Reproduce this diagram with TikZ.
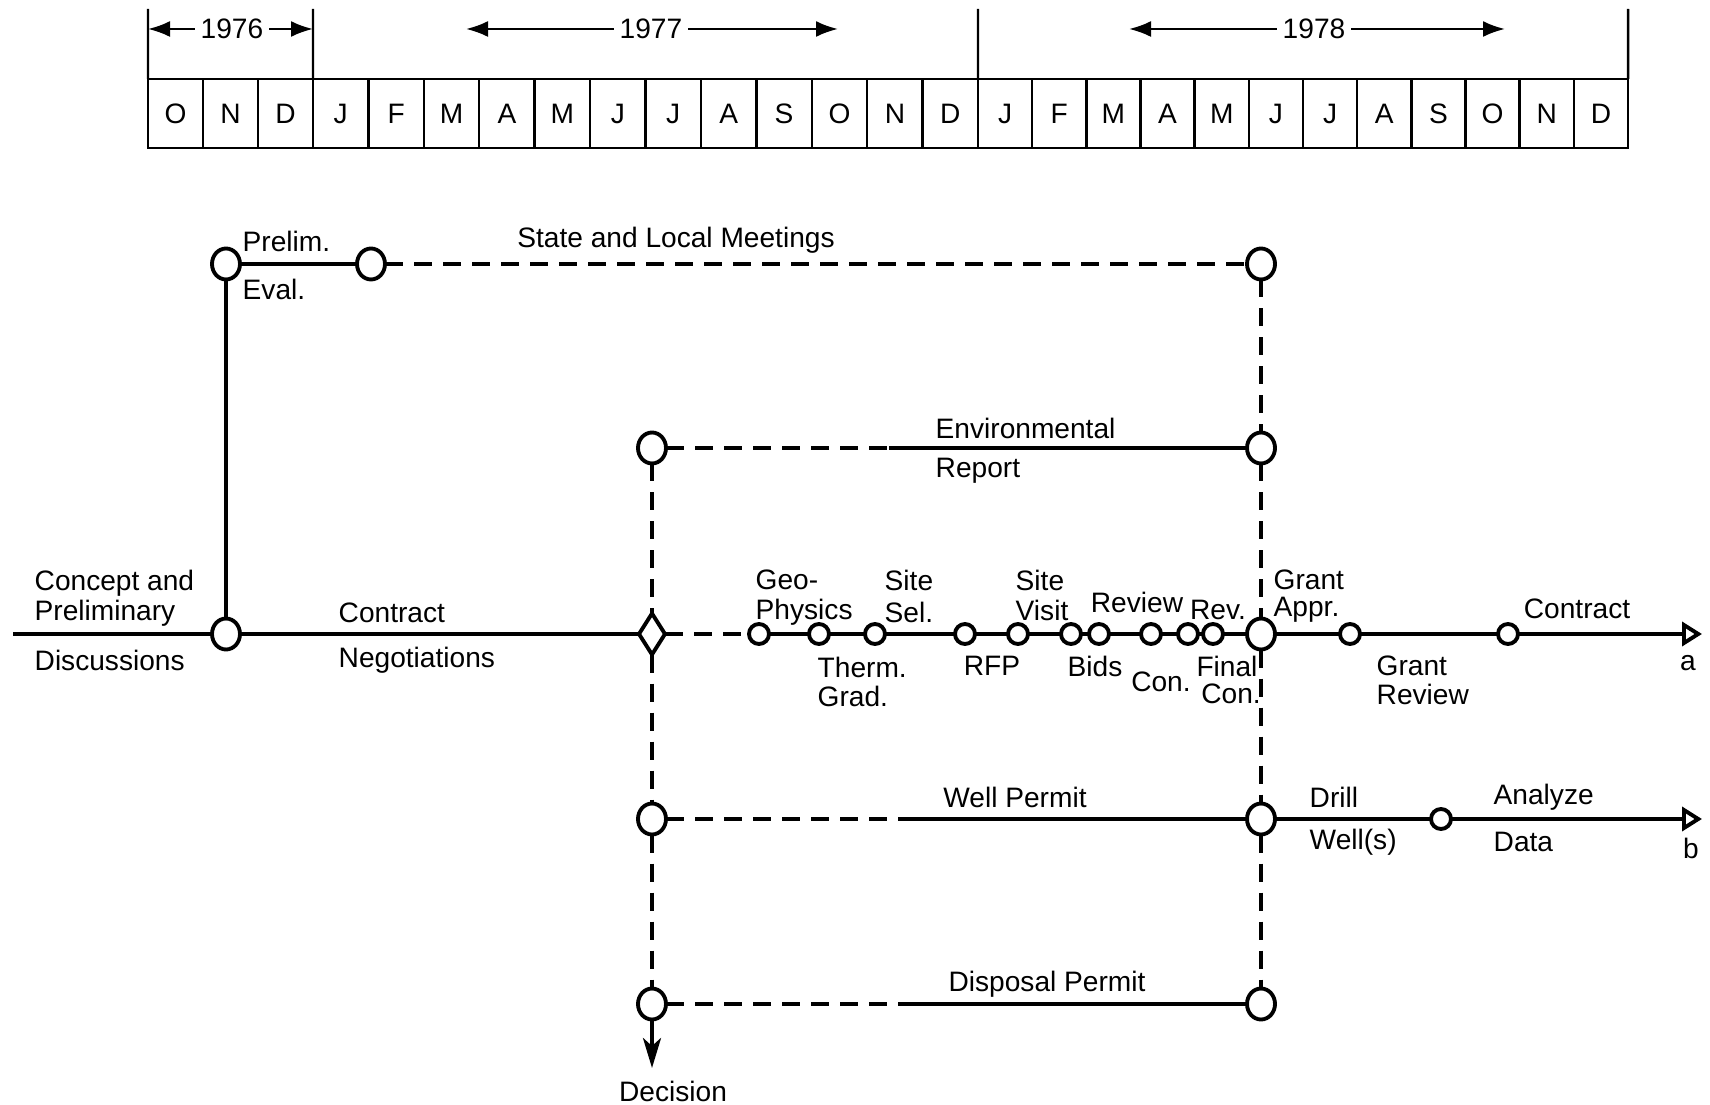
\documentclass[tikz,border=0pt]{standalone}
\usepackage{fontspec}
\setmainfont{Liberation Sans}
\usetikzlibrary{arrows.meta,shapes.geometric}

\begin{document}
\begin{tikzpicture}[
  x=0.1mm,
  y=-0.1mm,
  font=\fontsize{8}{10}\selectfont,
  mon/.style={
    draw,
    line width=0.7pt,
    minimum height=6.9mm,
    inner sep=0pt,
    outer sep=0pt
  },
  yr/.style={inner sep=1.5pt},
  lbl/.style={inner sep=0pt},
  calline/.style={line width=0.7pt},
  yarr/.style={
    line width=0.7pt,
    -{Latex[length=2.2mm,width=1.6mm]}
  },
  bign/.style={
    draw,
    ellipse,
    line width=1.1pt,
    minimum width=2.8mm,
    minimum height=3.1mm,
    inner sep=0pt,
    outer sep=0pt
  },
  smn/.style={
    draw,
    circle,
    line width=1.1pt,
    minimum size=2mm,
    inner sep=0pt,
    outer sep=0pt
  },
  dmd/.style={
    draw,
    diamond,
    line width=1.1pt,
    minimum width=2.6mm,
    minimum height=4.1mm,
    inner sep=0pt,
    outer sep=0pt
  },
  sline/.style={line width=1.1pt},
  dline/.style={
    line width=1.1pt,
    dash pattern=on 1.8mm off 1.1mm
  },
  endarr/.style={
    sline,
    -{Triangle[open,length=2mm,width=2.4mm]}
  },
  decarr/.style={
    sline,
    -{Stealth[length=3mm,width=1.8mm,inset=0.8mm]}
  }
]

\useasboundingbox (0,0) rectangle (1710,1105);

% calendar
\foreach \m [count=\i] in {O,N,D}
  \node[mon, minimum width=5.5mm] (ma\i) at ({148+55*(\i-0.5)},113.5) {\m};
\foreach \m [count=\i] in {J,F,M,A,M,J,J,A,S,O,N,D}
  \node[mon, minimum width=5.542mm] (mb\i) at ({313+55.42*(\i-0.5)},113.5) {\m};
\foreach \m [count=\i] in {J,F,M,A,M,J,J,A,S,O,N,D}
  \node[mon, minimum width=5.417mm] (mc\i) at ({978+54.17*(\i-0.5)},113.5) {\m};

\coordinate (ya) at (148,9);
\coordinate (yb) at (313,9);
\coordinate (yc) at (978,9);
\coordinate (yd) at (1628,9);

\draw[calline] (ya) -- (ma1.north west);
\draw[calline] (yb) -- (mb1.north west);
\draw[calline] (yc) -- (mc1.north west);
\draw[calline] (yd) -- (mc12.north east);

\node[yr] (t76) at (232,29) {1976};
\draw[yarr] (t76.west) -- (t76.west -| ya);
\draw[yarr] (t76.east) -- (t76.east -| yb);

\node[yr] (t77) at (651,29) {1977};
\coordinate (t77l) at (466,29);
\coordinate (t77r) at (838,29);
\draw[yarr] (t77.west) -- (t77l);
\draw[yarr] (t77.east) -- (t77r);

\node[yr] (t78) at (1314,29) {1978};
\coordinate (t78l) at (1129,29);
\coordinate (t78r) at (1505,29);
\draw[yarr] (t78.west) -- (t78l);
\draw[yarr] (t78.east) -- (t78r);

% network
\coordinate (start) at (13,634);
\node[bign] (disc) at (226,634) {};
\node[bign] (prelim) at (226,264) {};
\node[bign] (eval) at (371,264) {};
\node[bign] (meet) at (1261,264) {};
\node[bign] (envl) at (652,448) {};
\node[bign] (envr) at (1261,448) {};
\node[dmd] (go) at (652,634) {};
\node[bign] (hub) at (1261,634) {};
\node[smn] (grev) at (1350,634) {};
\node[smn] (contr) at (1508,634) {};
\coordinate (aend) at (1702,634);
\node[bign] (welll) at (652,819) {};
\node[bign] (wellr) at (1261,819) {};
\node[smn] (drill) at (1441,819) {};
\coordinate (bend) at (1702,819);
\node[bign] (displ) at (652,1004) {};
\node[bign] (dispr) at (1261,1004) {};
\coordinate (dec) at (652,1068);

\foreach \x [count=\i] in {759,819,875,965,1018,1071,1099,1151,1188,1213}
  \node[smn] (s\i) at (\x,634) {};

\coordinate (envmid) at (889,448);
\coordinate (wellmid) at (905,819);
\coordinate (dispmid) at (908,1004);

\draw[sline] (start) -- (disc);
\draw[sline] (disc) -- (go);
\draw[sline] (disc) -- (prelim);
\draw[sline] (prelim) -- (eval);
\draw[dline] (eval) -- (meet);

\draw[dline] (meet) -- (envr);
\draw[dline] (envr) -- (hub);
\draw[dline] (hub) -- (wellr);
\draw[dline] (wellr) -- (dispr);

\draw[dline] (envl) -- (go);
\draw[dline] (go) -- (welll);
\draw[dline] (welll) -- (displ);
\draw[decarr] (displ) -- (dec);

\draw[dline] (envl) -- (envmid);
\draw[sline] (envmid) -- (envr);
\draw[dline] (welll) -- (wellmid);
\draw[sline] (wellmid) -- (wellr);
\draw[dline] (displ) -- (dispmid);
\draw[sline] (dispmid) -- (dispr);

\draw[dline] (go) -- (s1);
\draw[sline] (s1) -- (s2) -- (s3) -- (s4) -- (s5) -- (s6)
  -- (s7) -- (s8) -- (s9) -- (s10) -- (hub);
\draw[sline] (hub) -- (grev) -- (contr);
\draw[endarr] (contr) -- (aend);
\draw[sline] (wellr) -- (drill);
\draw[endarr] (drill) -- (bend);

% labels
\node[lbl, anchor=west] (lprelim) at (242,241) {Prelim.};
\node[lbl, anchor=west] (leval) at (242,289) {Eval.};
\node[lbl] (lmeet) at (676,240) {State and Local Meetings};

\node[lbl, anchor=west] (lconc) at (34,583) {Concept and};
\node[lbl, anchor=west] (lpre) at (34,613) {Preliminary};
\node[lbl, anchor=west] (ldisc) at (34,660) {Discussions};
\node[lbl, anchor=west] (lcon) at (338,613) {Contract};
\node[lbl, anchor=west] (lneg) at (338,660) {Negotiations};

\node[lbl, anchor=west] (lenv) at (935,428) {Environmental};
\node[lbl, anchor=west] (lrep) at (935,471) {Report};

\node[lbl, anchor=west] (lgeo) at (755,580) {Geo-};
\node[lbl, anchor=west] (lphy) at (755,612) {Physics};
\node[lbl, anchor=west] (lsite) at (884,580) {Site};
\node[lbl, anchor=west] (lsel) at (884,612) {Sel.};
\node[lbl, anchor=west] (lther) at (817,667) {Therm.};
\node[lbl, anchor=west] (lgrad) at (817,696) {Grad.};
\node[lbl] (lrfp) at (992,666) {RFP};
\node[lbl, anchor=west] (lsite2) at (1015,580) {Site};
\node[lbl, anchor=west] (lvis) at (1015,610) {Visit};
\node[lbl] (lrevw) at (1137,602) {Review};
\node[lbl] (lrev) at (1218,610) {Rev.};
\node[lbl] (lbids) at (1095,666) {Bids};
\node[lbl] (lcon2) at (1161,682) {Con.};
\node[lbl] (lfin) at (1227,666) {Final};
\node[lbl] (lfcon) at (1231,694) {Con.};

\node[lbl, anchor=west] (lgrant) at (1273,580) {Grant};
\node[lbl, anchor=west] (lappr) at (1273,610) {Appr.};
\node[lbl, anchor=west] (lgrant2) at (1376,666) {Grant};
\node[lbl, anchor=west] (lgrrev) at (1376,694) {Review};
\node[lbl] (lcontr) at (1577,609) {Contract};
\node[lbl] (la) at (1688,663) {a};

\node[lbl] (lwell) at (1015,797) {Well Permit};
\node[lbl, anchor=west] (ldrill) at (1309,797) {Drill};
\node[lbl, anchor=west] (lwells) at (1309,842) {Well(s)};
\node[lbl, anchor=west] (lanal) at (1493,797) {Analyze};
\node[lbl, anchor=west] (ldata) at (1493,842) {Data};
\node[lbl] (lb) at (1691,848) {b};

\node[lbl] (ldisp) at (1047,984) {Disposal Permit};
\node[lbl] (ldec) at (673,1091) {Decision};

\end{tikzpicture}
\end{document}
